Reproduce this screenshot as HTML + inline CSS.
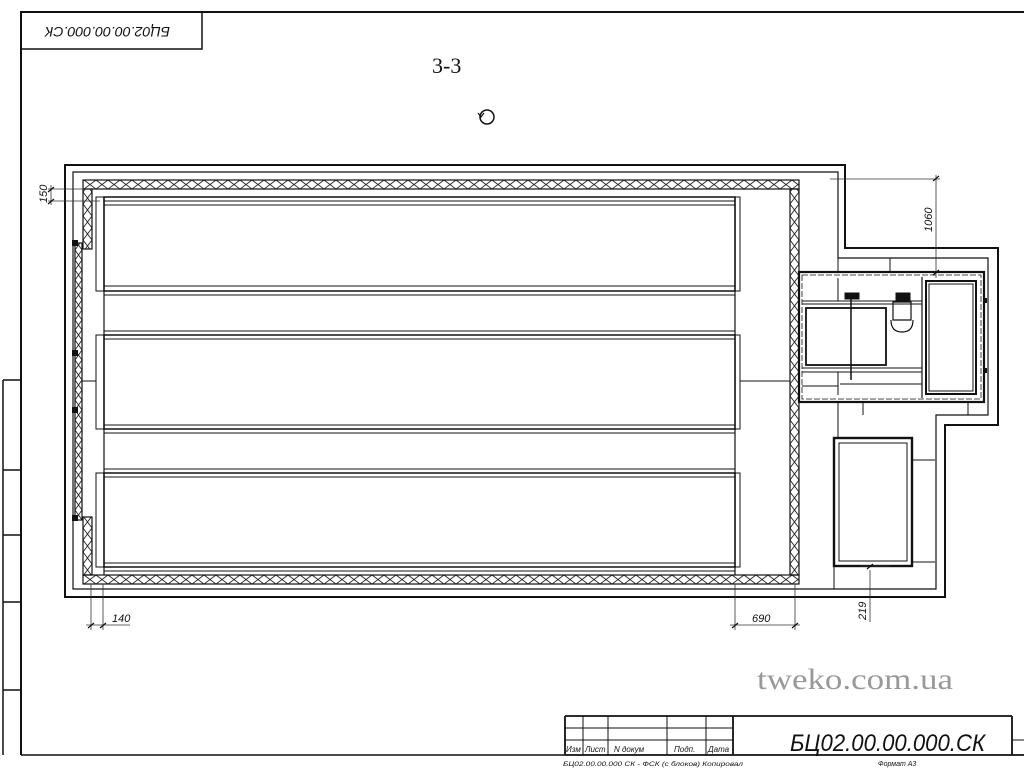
<!DOCTYPE html>
<html><head><meta charset="utf-8"><style>
html,body{margin:0;padding:0;background:#fff;width:1024px;height:768px;overflow:hidden}
svg{display:block}
text{font-family:"Liberation Sans","DejaVu Sans",sans-serif}
</style></head><body>
<svg width="1024" height="768" viewBox="0 0 1024 768" xmlns="http://www.w3.org/2000/svg">
<defs>
<pattern id="xh" x="0" y="180" width="12" height="9" patternUnits="userSpaceOnUse">
<path d="M0 0L12 9M12 0L0 9" stroke="#222" stroke-width="0.9"/>
</pattern>
<pattern id="xh2" x="0" y="575" width="12" height="9" patternUnits="userSpaceOnUse">
<path d="M0 0L12 9M12 0L0 9" stroke="#222" stroke-width="0.9"/>
</pattern>
<pattern id="xv" x="790" y="0" width="9" height="12" patternUnits="userSpaceOnUse">
<path d="M0 0L9 12M9 0L0 12" stroke="#222" stroke-width="0.9"/>
</pattern>
<pattern id="xv2" x="75" y="0" width="7" height="10" patternUnits="userSpaceOnUse">
<path d="M0 0L7 10M7 0L0 10" stroke="#222" stroke-width="0.9"/>
</pattern>
<pattern id="xv3" x="83" y="0" width="9" height="12" patternUnits="userSpaceOnUse">
<path d="M0 0L9 12M9 0L0 12" stroke="#222" stroke-width="0.9"/>
</pattern>
</defs>
<g fill="none" stroke="#111">
<path d="M21 755V12H1024" stroke-width="2"/>
<rect x="21" y="12" width="181" height="37" stroke-width="1.5"/>
<path d="M3 380V755M21 380H3M3 470H21M3 535H21M3 602H21M3 690H21M21 755H565" stroke-width="1.5"/>
<path d="M565 716H1012M565 755H1024M565 716V755M733 716V755M1012 716V755" stroke-width="1.8"/>
<path d="M583 716V755M608 716V755M667 716V755M706 716V755M565 728H733M565 740H733M1012 740H1024" stroke-width="1"/>
<path d="M65 165H845V248H998V425H945V597H65Z" stroke-width="2"/>
<path d="M73 172H838V258H988V415H936V589H73Z" stroke-width="1.2"/>
<rect x="83" y="180" width="716" height="9" fill="url(#xh)" stroke-width="1.2"/>
<rect x="83" y="575" width="716" height="9" fill="url(#xh2)" stroke-width="1.2"/>
<rect x="790" y="189" width="9" height="386" fill="url(#xv)" stroke-width="1.2"/>
<rect x="83" y="189" width="9" height="60" fill="url(#xv3)" stroke-width="1.2"/>
<rect x="75" y="243" width="7" height="277" fill="url(#xv2)" stroke-width="1.2"/>
<rect x="83" y="517" width="9" height="58" fill="url(#xv3)" stroke-width="1.2"/>
<path d="M83 189H799M83 575H799" stroke-width="1"/>
<path d="M104 197V575M735 197V575" stroke-width="1.2"/>
<g stroke-width="1.5">
<rect x="104" y="197" width="631" height="94"/>
<rect x="104" y="335" width="631" height="94"/>
<rect x="104" y="473" width="631" height="94"/>
</g>
<g stroke-width="1">
<path d="M104 201H735M104 205H735M104 286H735M104 295H735"/>
<path d="M104 331H735M104 339H735M104 425H735M104 433H735"/>
<path d="M104 469H735M104 477H735M104 563H735M104 571H735"/>
<rect x="96" y="197" width="8" height="94"/><rect x="735" y="197" width="5" height="94"/>
<rect x="96" y="335" width="8" height="94"/><rect x="735" y="335" width="5" height="94"/>
<rect x="96" y="473" width="8" height="94"/><rect x="735" y="473" width="5" height="94"/>
<path d="M82 381H96M740 381H790"/>
</g>
<rect x="799" y="272" width="185" height="130" stroke-width="2.2"/>
<rect x="802" y="275" width="179" height="124" stroke-width="0.8" stroke-dasharray="6 2"/>
<path d="M838 258V272M890 258V272M838 402V415M863 402V415M968 402V415" stroke-width="1"/>
<rect x="926" y="281" width="50" height="113" stroke-width="2"/>
<rect x="929" y="284" width="44" height="107" stroke-width="1"/>
<path d="M922 277V398" stroke-width="1.2"/>
<path d="M802 301H922M802 304H922M802 368H922M802 372H922" stroke-width="1"/>
<rect x="806" y="308" width="80" height="57" stroke-width="1.8"/>
<path d="M851 298V380" stroke-width="1.5"/>
<rect x="845" y="293" width="14" height="6" fill="#111"/>
<rect x="896" y="293" width="14" height="7" fill="#111"/>
<path d="M893 302h18v18h-18zM891 320q0 12 11 12q11 0 11-12" stroke-width="1.2"/>
<path d="M838 278V301M838 372V395M802 386H838M840 384H922" stroke-width="1"/>
<rect x="834" y="438" width="78" height="128" stroke-width="2.4"/>
<rect x="839" y="443" width="68" height="118" stroke-width="1"/>
<path d="M912 460H935M912 562H935M838 415V438M834 566V589" stroke-width="1"/>
<g fill="#111" stroke="none">
<rect x="72" y="240" width="6" height="6"/><rect x="72" y="350" width="6" height="6"/><rect x="72" y="407" width="6" height="6"/><rect x="72" y="515" width="6" height="6"/>
<rect x="983" y="298" width="4" height="5"/><rect x="983" y="368" width="4" height="5"/>
</g>
<g stroke-width="0.8" stroke="#333">
<path d="M91 584V630M103 584V630M86 625H130"/>
<path d="M735 584V630M795 584V630M730 625H800"/>
<path d="M870 570V622M860 566H890"/>
<path d="M936 175V278M830 179H940"/>
<path d="M48 189H92M48 201H100M51 185V205"/>
</g>
<g stroke-width="1.2"><path d="M88 628l6-5M100 628l6-5M732 628l6-5M792 628l6-5M867 569l6-5M933 181l6-5M933 275l6-5M48 192l6-5M48 204l6-5"/></g>
<circle cx="487" cy="117" r="7" stroke-width="1.5"/>
<path d="M478 113l3 4 3-4" stroke-width="1.2"/>
</g>
<g fill="#111">
<text x="0" y="0" font-size="14" font-style="italic" textLength="125" lengthAdjust="spacingAndGlyphs" transform="translate(170,27) rotate(180)">БЦ02.00.00.000.СК</text>
<text x="432" y="73" font-size="22" style="font-family:'Liberation Serif',serif">3-3</text>
<text x="112" y="622" font-size="11" font-style="italic">140</text>
<text x="752" y="622" font-size="11" font-style="italic">690</text>
<text font-size="11" font-style="italic" transform="translate(866,620) rotate(-90)">219</text>
<text font-size="11" font-style="italic" transform="translate(932,232) rotate(-90)">1060</text>
<text font-size="11" font-style="italic" transform="translate(47,203) rotate(-90)">150</text>
<text x="757" y="689" font-size="30" fill="#999" textLength="196" lengthAdjust="spacingAndGlyphs" style="font-family:'Liberation Serif',serif">tweko.com.ua</text>
<text x="790" y="751" font-size="24" font-style="italic" textLength="195" lengthAdjust="spacingAndGlyphs">БЦ02.00.00.000.СК</text>
<g font-size="8" font-style="italic"><text x="566" y="752">Изм</text><text x="585" y="752">Лист</text><text x="614" y="752">N докум</text><text x="674" y="752">Подп.</text><text x="708" y="752">Дата</text></g>
<text x="563" y="766" font-size="6.5" font-style="italic" textLength="180" lengthAdjust="spacingAndGlyphs">БЦ02.00.00.000 СК - ФСК (с блоков)    Копировал</text>
<text x="878" y="766" font-size="7" font-style="italic">Формат А3</text>
</g>
</svg>
</body></html>
